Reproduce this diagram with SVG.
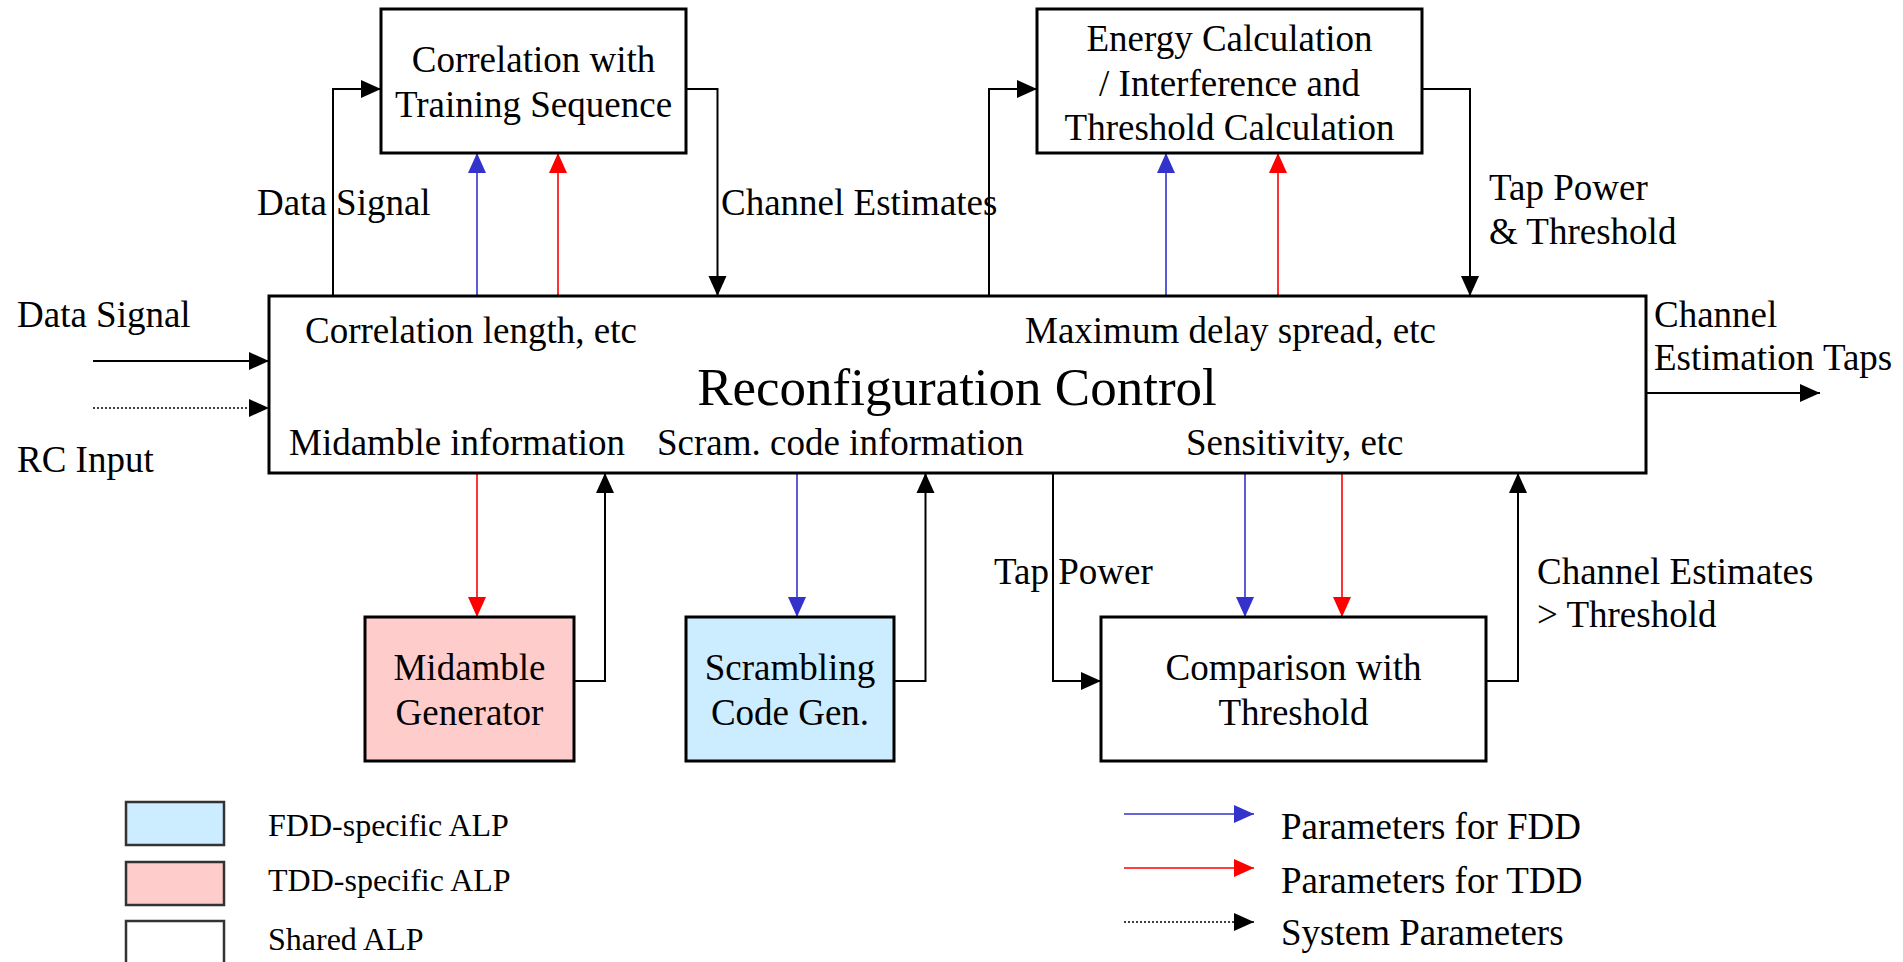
<svg xmlns="http://www.w3.org/2000/svg" width="1903" height="962" viewBox="0 0 1903 962">
  <style>
    text { font-family: "Liberation Serif", "Times New Roman", serif; fill: #000; }
    .t { font-size: 37px; }
    .big { font-size: 53px; }
    .leg { font-size: 32px; }
    .mid { text-anchor: middle; }
    .box { fill: #fff; stroke: #000; stroke-width: 3; }
    .tdd { fill: #FFCCCC; }
    .fdd { fill: #CCECFF; }
    .sw { stroke: #333; stroke-width: 2.5; }
    .k { fill: none; stroke: #000; stroke-width: 2; }
    .b { fill: none; stroke: #3333CC; stroke-width: 1.6; }
    .r { fill: none; stroke: #FF0000; stroke-width: 1.6; }
    .dot { fill: none; stroke: #000; stroke-width: 1.5; stroke-dasharray: 2 2; }
  </style>
  <defs>
    <marker id="ak" markerUnits="userSpaceOnUse" markerWidth="20" markerHeight="20" refX="20" refY="10" orient="auto">
      <path d="M0,1 L20,10 L0,19 z" fill="#000"/>
    </marker>
    <marker id="ab" markerUnits="userSpaceOnUse" markerWidth="20" markerHeight="20" refX="20" refY="10" orient="auto">
      <path d="M0,1 L20,10 L0,19 z" fill="#3333CC"/>
    </marker>
    <marker id="ar" markerUnits="userSpaceOnUse" markerWidth="20" markerHeight="20" refX="20" refY="10" orient="auto">
      <path d="M0,1 L20,10 L0,19 z" fill="#FF0000"/>
    </marker>
  </defs>

  <rect width="1903" height="962" fill="#fff"/>

  <!-- connectors -->
  <g id="connectors">
    <path class="k" d="M333,296 V89 H381" marker-end="url(#ak)"/>
    <path class="b" d="M477,296 V153" marker-end="url(#ab)"/>
    <path class="r" d="M558,296 V153" marker-end="url(#ar)"/>
    <path class="k" d="M686,89 H717.5 V296" marker-end="url(#ak)"/>
    <path class="k" d="M989,296 V89 H1037" marker-end="url(#ak)"/>
    <path class="b" d="M1166,296 V153" marker-end="url(#ab)"/>
    <path class="r" d="M1278,296 V153" marker-end="url(#ar)"/>
    <path class="k" d="M1422,89 H1470 V296" marker-end="url(#ak)"/>
    <path class="k" d="M93,361 H269" marker-end="url(#ak)"/>
    <path class="dot" d="M93,408 H269" marker-end="url(#ak)"/>
    <path class="k" d="M1646,393 H1820" marker-end="url(#ak)"/>
    <path class="r" d="M477,473 V617" marker-end="url(#ar)"/>
    <path class="k" d="M574,681 H605 V473" marker-end="url(#ak)"/>
    <path class="b" d="M797,473 V617" marker-end="url(#ab)"/>
    <path class="k" d="M894,681 H925.5 V473" marker-end="url(#ak)"/>
    <path class="k" d="M1053,473 V681 H1101" marker-end="url(#ak)"/>
    <path class="b" d="M1245,473 V617" marker-end="url(#ab)"/>
    <path class="r" d="M1342,473 V617" marker-end="url(#ar)"/>
    <path class="k" d="M1486,681 H1518 V473" marker-end="url(#ak)"/>
  </g>

  <!-- connector labels -->
  <g id="labels">
    <text class="t" x="257" y="215">Data Signal</text>
    <text class="t" x="721" y="215">Channel Estimates</text>
    <text class="t" x="1489" y="200">Tap Power</text>
    <text class="t" x="1489" y="244">&amp; Threshold</text>
    <text class="t" x="17" y="327">Data Signal</text>
    <text class="t" x="17" y="472">RC Input</text>
    <text class="t" x="1654" y="327">Channel</text>
    <text class="t" x="1654" y="370">Estimation Taps</text>
    <text class="t" x="994" y="584">Tap Power</text>
    <text class="t" x="1537" y="584">Channel Estimates</text>
    <text class="t" x="1537" y="627">&gt; Threshold</text>
  </g>

  <g id="correlation">
    <rect class="box" x="381" y="9" width="305" height="144"/>
    <text class="t mid" x="533.5" y="72">Correlation with</text>
    <text class="t mid" x="533.5" y="117">Training Sequence</text>
  </g>

  <g id="energy">
    <rect class="box" x="1037" y="9" width="385" height="144"/>
    <text class="t mid" x="1229.5" y="51">Energy Calculation</text>
    <text class="t mid" x="1229.5" y="96">/ Interference and</text>
    <text class="t mid" x="1229.5" y="140">Threshold Calculation</text>
  </g>

  <g id="reconfiguration-control">
    <rect class="box" x="269" y="296" width="1377" height="177"/>
    <text class="t" x="305" y="343">Correlation length, etc</text>
    <text class="t" x="1025" y="343">Maximum delay spread, etc</text>
    <text class="big mid" x="957" y="405">Reconfiguration Control</text>
    <text class="t" x="289" y="455">Midamble information</text>
    <text class="t" x="657" y="455">Scram. code information</text>
    <text class="t" x="1186" y="455">Sensitivity, etc</text>
  </g>

  <g id="midamble-generator">
    <rect class="box tdd" x="365" y="617" width="209" height="144"/>
    <text class="t mid" x="469.5" y="680">Midamble</text>
    <text class="t mid" x="469.5" y="725">Generator</text>
  </g>

  <g id="scrambling-code-gen">
    <rect class="box fdd" x="686" y="617" width="208" height="144"/>
    <text class="t mid" x="790" y="680">Scrambling</text>
    <text class="t mid" x="790" y="725">Code Gen.</text>
  </g>

  <g id="comparison">
    <rect class="box" x="1101" y="617" width="385" height="144"/>
    <text class="t mid" x="1293.5" y="680">Comparison with</text>
    <text class="t mid" x="1293.5" y="725">Threshold</text>
  </g>

  <!-- legend -->
  <g id="legend-blocks">
    <rect class="sw fdd" x="126" y="802" width="98" height="43"/>
    <text class="leg" x="268" y="836">FDD-specific ALP</text>
    <rect class="sw tdd" x="126" y="862" width="98" height="43"/>
    <text class="leg" x="268" y="891">TDD-specific ALP</text>
    <rect class="sw" x="126" y="921" width="98" height="50" fill="#fff"/>
    <text class="leg" x="268" y="950">Shared ALP</text>
  </g>

  <g id="legend-arrows">
    <path class="b" d="M1124,814 H1254" marker-end="url(#ab)"/>
    <text class="t" x="1281" y="839">Parameters for FDD</text>
    <path class="r" d="M1124,868 H1254" marker-end="url(#ar)"/>
    <text class="t" x="1281" y="893">Parameters for TDD</text>
    <path class="dot" d="M1124,922 H1254" marker-end="url(#ak)"/>
    <text class="t" x="1281" y="945">System Parameters</text>
  </g>
</svg>
